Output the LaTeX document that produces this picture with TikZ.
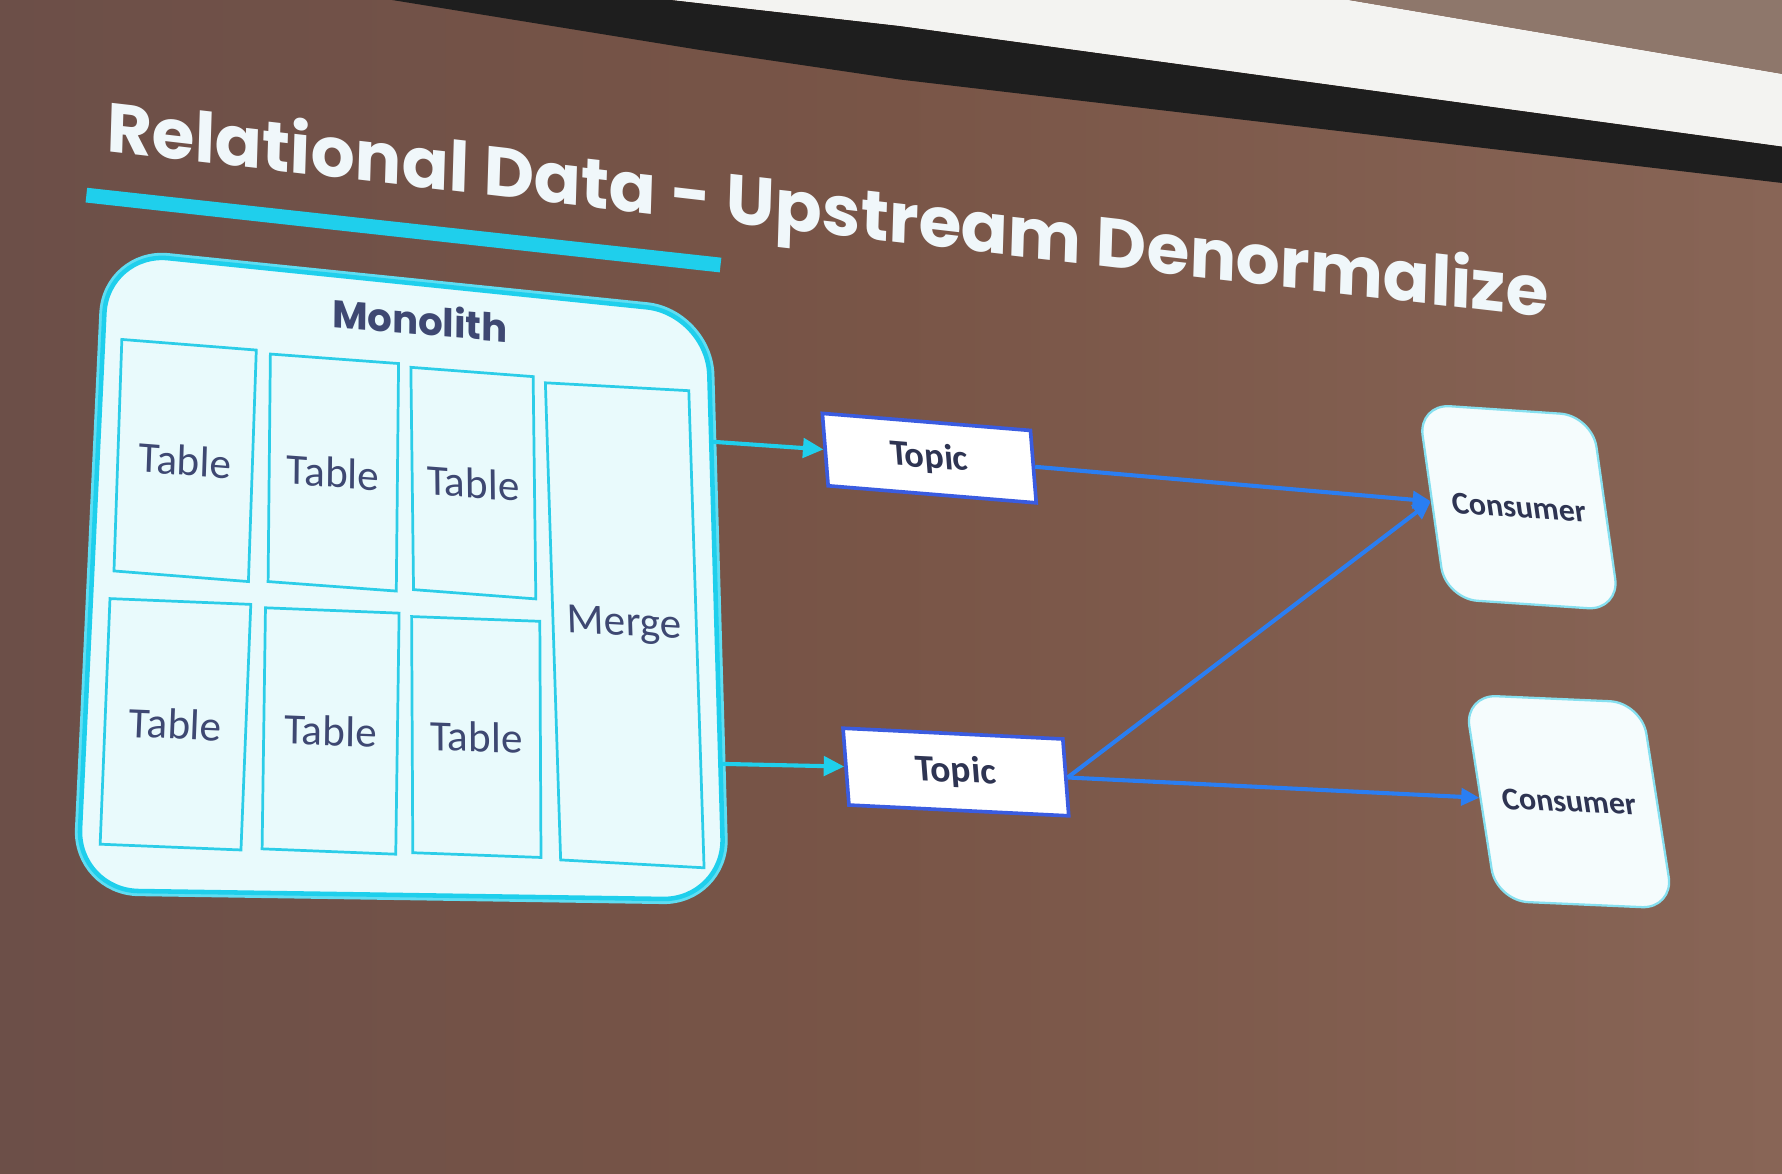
\documentclass[tikz,border=0pt]{standalone}
\usepackage{fontspec}
\setmainfont{Carlito}
\newfontfamily\titlefont{Poppins}
\usetikzlibrary{arrows.meta,calc}
\definecolor{bgL}{HTML}{6C4F48}
\definecolor{bgM}{HTML}{795547}
\definecolor{bgR}{HTML}{886556}
\definecolor{bandc}{HTML}{1E1E1E}
\definecolor{screenw}{HTML}{F3F3F1}
\definecolor{wallc}{HTML}{8E776B}
\definecolor{cyanc}{HTML}{1FCFEC}
\definecolor{glowc}{HTML}{5FDDF2}
\definecolor{cellc}{HTML}{2CCDE8}
\definecolor{monofill}{HTML}{E9FAFC}
\definecolor{txtc}{HTML}{3E4872}
\definecolor{topicb}{HTML}{3A5CE0}
\definecolor{topict}{HTML}{2E3452}
\definecolor{bluec}{HTML}{2A7EF2}
\definecolor{consb}{HTML}{86E0F0}
\definecolor{consf}{HTML}{F5FCFD}
\definecolor{titlec}{HTML}{F0F7FA}
\begin{document}
\begin{tikzpicture}[x=0.5pt,y=-0.5pt,
  pers/.style 2 args={cm={1,#1,#2,1,(0,0)}},
  monoshape/.style={draw=cyanc, line width=2pt, fill=monofill, rounded corners=27pt,
    preaction={draw=glowc, line width=4.5pt}},
  cell/.style={draw=cellc, line width=1.2pt, inner sep=0pt, text=txtc,
    font=\fontsize{19}{22}\selectfont},
  topic/.style={draw=topicb, line width=1.6pt, fill=white, inner sep=0pt, text=topict,
    font=\bfseries\fontsize{16}{19}\selectfont},
  consumer/.style={draw=consb, line width=1pt, fill=consf, rounded corners=14pt,
    inner sep=0pt, text=topict, font=\bfseries\fontsize{14}{17}\selectfont},
  cyanarrow/.style={draw=cyanc, line width=1.8pt, -{Triangle[length=9pt,width=8.5pt]}},
  bluearrow/.style={draw=bluec, line width=1.8pt, -{Triangle[length=8pt,width=7.5pt]}}]
\useasboundingbox (0,0) rectangle (1568,1033);
% background
\fill[left color=bgL, right color=bgR, middle color=bgM] (0,0) rectangle (1568,1033);
\fill[screenw] (590,0) -- (1187,0) -- (1568,65) -- (1568,129) -- (792,23) -- cycle;
\fill[wallc] (1187,0) -- (1568,0) -- (1568,65) -- cycle;
\fill[bandc] (345,0) -- (590,0) -- (792,23) -- (1568,129) -- (1568,161) -- (792,70) -- (616,44) -- cycle;
% title
\node[anchor=base west, inner sep=0pt, text=titlec, pers={-0.1155}{0.03},
  font=\titlefont\bfseries\fontsize{30.5}{36}\selectfont] (title) at (93,133)
  {Relational Data - Upstream Denormalize};
\coordinate (ul1) at (76,171.7);
\coordinate (ul2) at (634,233.2);
\draw[cyanc, line width=6.5pt] (ul1) -- (ul2);
% monolith (drawn in perspective)
\coordinate (mTL) at (94.4,221.7);
\coordinate (mTR) at (622.6,275.9);
\coordinate (mBR) at (637.3,791.8);
\coordinate (mBL) at (67.9,783.2);
\path[monoshape] ($(mTL)!0.5!(mTR)$) -- (mTR) -- (mBR) -- (mBL) -- (mTL) -- cycle;
\node[text=txtc, inner sep=0pt, pers={-0.085}{0.01}, font=\titlefont\bfseries\fontsize{17}{20}\selectfont] (mono) at (369.5,281.1) {Monolith};
\node[cell, minimum width=59.15pt, minimum height=101.85pt, pers={-0.079}{0.034}] (t1) at (162.9,405.2) {Table};
\node[cell, minimum width=56.4pt, minimum height=100.1pt, pers={-0.074}{0.010}] (t2) at (293.3,415.8) {Table};
\node[cell, minimum width=53.8pt, minimum height=97.8pt, pers={-0.076}{-0.012}] (t3) at (416.5,425.1) {Table};
\node[cell, minimum width=63.1pt, minimum height=209.9pt, pers={-0.055}{-0.032}] (merge) at (549.7,550.2) {Merge};
\node[cell, minimum width=61.95pt, minimum height=108.05pt, pers={-0.041}{0.040}] (t4) at (154.4,637.3) {Table};
\node[cell, minimum width=58.8pt, minimum height=106.05pt, pers={-0.040}{0.014}] (t5) at (290.9,643.2) {Table};
\node[cell, minimum width=56.4pt, minimum height=103.9pt, pers={-0.037}{-0.005}] (t6) at (419.1,648.5) {Table};
% topics
\node[topic, minimum width=91.55pt, minimum height=31.85pt, pers={-0.082}{-0.080}] (topic1) at (817.7,403.1) {Topic};
\node[topic, minimum width=96.7pt, minimum height=33.8pt, pers={-0.049}{-0.077}, font=\bfseries\fontsize{16.5}{19}\selectfont] (topic2) at (841.1,679.3) {Topic};
% consumers
\node[consumer, minimum width=76.5pt, minimum height=85.6pt, pers={-0.067}{-0.142}] (cons1) at (1336.5,446.3) {Consumer};
\node[consumer, minimum width=77.9pt, minimum height=90.6pt, pers={-0.044}{-0.156}] (cons2) at (1380.6,705.4) {Consumer};
% connectors
\coordinate (m1) at ($(mTR)!0.2185!(mBR)$);
\coordinate (m2) at ($(mTR)!0.768!(mBR)$);
\draw[cyanarrow] (m1) -- (topic1.west);
\draw[cyanarrow] (m2) -- (topic2.west);
\draw[bluearrow] (topic1.east) -- (cons1.west);
\draw[bluearrow] (topic2.east) -- (cons1.west);
\draw[bluearrow] (topic2.east) -- (cons2.west);
\end{tikzpicture}
\end{document}
